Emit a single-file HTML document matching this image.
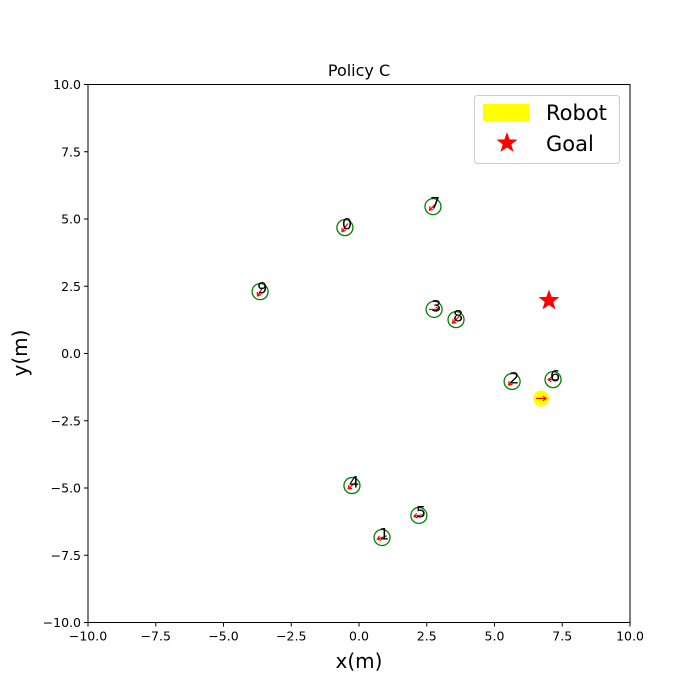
<!DOCTYPE html>
<html><head><meta charset="utf-8"><style>body{margin:0;background:#fff}svg{display:block;font-family:"DejaVu Sans","Liberation Sans",sans-serif}</style></head>
<body>
<svg id="c" width="700" height="700" viewBox="0 0 700 700"></svg>
<script>
const agentIds=[0,1,2,3,4,5,6,7,8,9];
const agentX=[-0.52,0.85,5.65,2.77,-0.26,2.21,7.16,2.73,3.58,-3.65];
const agentY=[4.68,-6.84,-1.04,1.64,-4.91,-6.02,-0.97,5.46,1.26,2.30];
const agentHeading=[235,200,225,0,220,190,180,225,225,240];
const robotPos=[6.72,-1.67];
const goalPos=[7.01,1.97];
const ticks=[-10,-7.5,-5,-2.5,0,2.5,5,7.5,10];
const tickLabels=["\u221210.0","\u22127.5","\u22125.0","\u22122.5","0.0","2.5","5.0","7.5","10.0"];
const L=88,R=630,T=84.5,B=622.5;
const sx=v=>L+(v+10)/20*(R-L), sy=v=>B-(v+10)/20*(B-T);
const svg=document.getElementById('c');const NS='http://www.w3.org/2000/svg';
function mk(t,a,p){const e=document.createElementNS(NS,t);for(const k in a)e.setAttribute(k,a[k]);(p||svg).appendChild(e);return e;}
let f=mk('rect',{x:L,y:T,width:R-L,height:B-T,fill:'none',stroke:'#000','stroke-width':1});


ticks.forEach((t,i)=>{
 let x=sx(t);mk('line',{x1:x,x2:x,y1:B,y2:B+4,stroke:'#000'});
 let tx=mk('text',{x:x,y:B+18,'font-size':12.5,'text-anchor':'middle'});tx.textContent=tickLabels[i];
 
 
 let y=sy(t);mk('line',{x1:L-4,x2:L,y1:y,y2:y,stroke:'#000'});
 let ty=mk('text',{x:L-7,y:y+4.5,'font-size':12.5,'text-anchor':'end'});ty.textContent=tickLabels[i];
 
 
});
let ti=mk('text',{x:(L+R)/2,y:76,'font-size':16,'text-anchor':'middle'});ti.textContent='Policy C';


let xl=mk('text',{x:(L+R)/2,y:668,'font-size':20,'text-anchor':'middle'});xl.textContent='x(m)';


let yl=mk('text',{x:27,y:353,'font-size':20,'text-anchor':'middle',transform:'rotate(-90 27 353)'});yl.textContent='y(m)';


function arrow(cx,cy,deg){const r=deg*Math.PI/180,dx=Math.cos(r),dy=-Math.sin(r),len=5;
 const x1=cx-dx*len,y1=cy-dy*len,x2=cx+dx*len,y2=cy+dy*len;
 mk('line',{x1,y1,x2,y2,stroke:'red','stroke-width':1.2});
 const a1=r+Math.PI*0.8,a2=r-Math.PI*0.8;
 mk('polyline',{points:`${x2+Math.cos(a1)*4},${y2-Math.sin(a1)*4} ${x2},${y2} ${x2+Math.cos(a2)*4},${y2-Math.sin(a2)*4}`,fill:'none',stroke:'red','stroke-width':1.2});}
agentIds.forEach((id,i)=>{
 const cx=sx(agentX[i]),cy=sy(agentY[i]);
 const c=mk('circle',{cx,cy,r:8,fill:'none',stroke:'green','stroke-width':1.3});
 
 
 arrow(cx,cy,agentHeading[i]);
 const t=mk('text',{x:cx-3,y:cy+2,'font-size':16});t.textContent=id;
 
 
});
const rb=mk('circle',{cx:sx(robotPos[0]),cy:sy(robotPos[1]),r:8,fill:'yellow'});


arrow(sx(robotPos[0]),sy(robotPos[1]),0);
function star(cx,cy,R,r){let p=[];for(let k=0;k<10;k++){const a=-Math.PI/2+k*Math.PI/5,rr=k%2?r:R;p.push((cx+rr*Math.cos(a)).toFixed(1)+','+(cy+rr*Math.sin(a)).toFixed(1));}return p.join(' ');}
const g=mk('polygon',{points:star(sx(goalPos[0]),sy(goalPos[1]),11,4.5),fill:'red'});


const lg=mk('g',{});


mk('rect',{x:474.5,y:95.5,width:145,height:68,rx:3,fill:'#fff',stroke:'#ccc'},lg);
mk('rect',{x:483,y:104,width:46,height:17,fill:'yellow'},lg);
mk('polygon',{points:star(507,143,11,4.5),fill:'red'},lg);
let l1=mk('text',{x:546,y:120,'font-size':21},lg);l1.textContent='Robot';


let l2=mk('text',{x:546,y:151,'font-size':21},lg);l2.textContent='Goal';


</script>
</body></html>
